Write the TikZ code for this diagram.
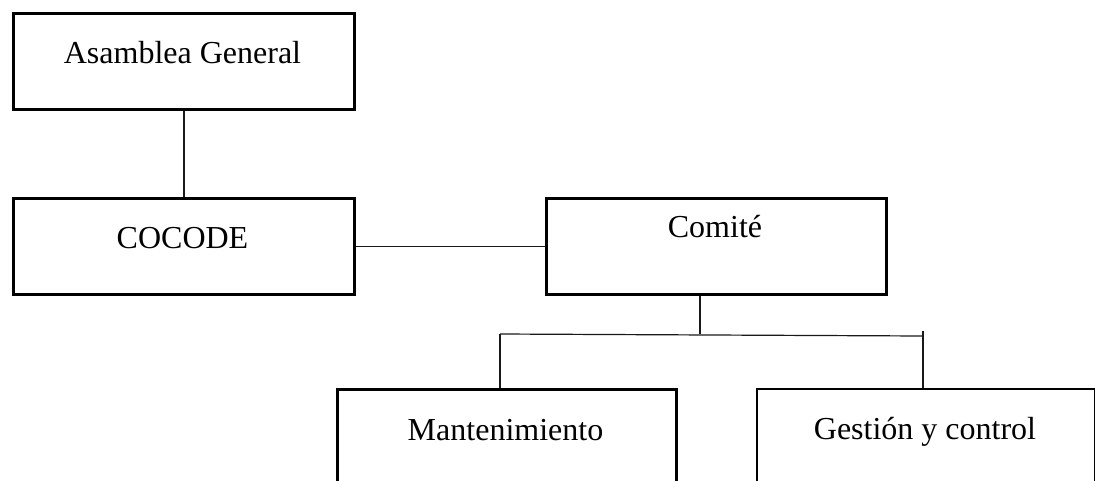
\documentclass[tikz,border=0pt]{standalone}
\usepackage{fontspec}
\setmainfont{Liberation Serif}
\begin{document}
\begin{tikzpicture}[x=1pt,y=-1pt,
  box/.style={draw=black,line width=3pt,rectangle,inner sep=0pt,anchor=north west},
  lbl/.style={anchor=base,inner sep=0pt,font=\fontsize{32}{38}\selectfont},
  conn/.style={draw=black!90,line width=1.2pt}]
\useasboundingbox[fill=white] (0,0) rectangle (1095,480);
\clip (0,0) rectangle (1095,480);
% boxes
\node[box,minimum width=341pt,minimum height=96pt] (asam) at (12,12) {};
\node[box,minimum width=341pt,minimum height=96pt] (cocode) at (12,197) {};
\node[box,minimum width=340pt,minimum height=96pt] (comite) at (545,197) {};
\node[box,minimum width=339pt,minimum height=110pt] (mant) at (336,388) {};
\node[box,minimum width=338pt,minimum height=110pt,line width=2pt] (gest) at (756,388) {};
% labels
\node[lbl] (asamT) at (182.5,63) {Asamblea General};
\node[lbl] (cocodeT) at (182.5,248) {COCODE};
\node[lbl] (comiteT) at (715,237) {Comité};
\node[lbl] (mantT) at (505.5,440) {Mantenimiento};
\node[lbl] (gestT) at (925,439) {Gestión y control};
% connectors
\coordinate (j) at (700,334);
\coordinate (bl) at (500,334);
\coordinate (br) at (923,336);
\coordinate (brt) at (923,331);
\draw[conn] (asam.south) -- (cocode.north);
\draw[conn] (cocode.east) -- (comite.west);
\draw[conn] (comite.south -| j) -- (j);
\draw[conn] (bl) -- (br);
\draw[conn] (bl) -- (bl |- mant.north);
\draw[conn] (brt) -- (brt |- gest.north);
\end{tikzpicture}
\end{document}
